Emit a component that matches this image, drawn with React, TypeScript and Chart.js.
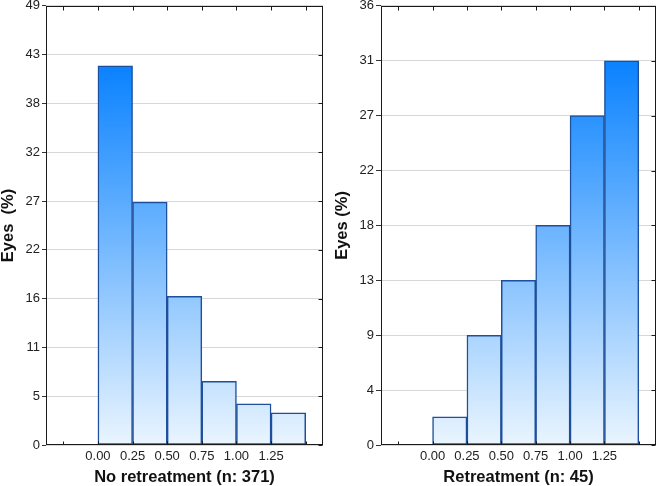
import React, { useEffect, useRef } from "react";
import { Chart, registerables } from "chart.js";

Chart.register(...registerables);

const BIN_STARTS = [0, 0.25, 0.5, 0.75, 1.0, 1.25];
const BIN_WIDTH = 0.25;
const LEFT_VALUES = [42.3, 27.1, 16.6, 7.1, 4.6, 3.6];
const RIGHT_VALUES = [2.3, 9.0, 13.5, 18.0, 27.0, 31.5];
const LEFT_Y_LABELS = ["0", "5", "11", "16", "22", "27", "32", "38", "43", "49"];
const LEFT_Y_MAX = 49;
const RIGHT_Y_LABELS = ["0", "4", "9", "13", "18", "22", "27", "31", "36"];
const RIGHT_Y_MAX = 36;
const X_TICKS = [-0.25, 0, 0.25, 0.5, 0.75, 1.0, 1.25, 1.5];
const X_TICK_LABELS = ["", "0.00", "0.25", "0.50", "0.75", "1.00", "1.25", ""];
const X_MIN = -0.375;
const X_MAX = 1.625;
const LEFT_X_TITLE = "No retreatment (n: 371)";
const RIGHT_X_TITLE = "Retreatment (n: 45)";
const LEFT_Y_TITLE = "Eyes  (%)";
const RIGHT_Y_TITLE = "Eyes (%)";

const FONT = "'Liberation Sans', Arial, Helvetica, sans-serif";

const framePlugin = {
  id: "frame",
  afterDraw(chart: any) {
    const { ctx, chartArea: a, scales } = chart;
    ctx.save();
    ctx.strokeStyle = "#1a1a1a";
    ctx.lineWidth = 1;
    const l = Math.round(a.left) + 0.5;
    const r = Math.round(a.right) - 0.5;
    const t = Math.round(a.top) + 0.5;
    const b = Math.round(a.bottom) - 0.5;
    ctx.strokeRect(l, t, r - l, b - t);
    ctx.beginPath();
    scales.x.ticks.forEach((tk: any) => {
      const px = Math.round(scales.x.getPixelForValue(tk.value)) + 0.5;
      ctx.moveTo(px, b);
      ctx.lineTo(px, b - 3);
      ctx.moveTo(px, t);
      ctx.lineTo(px, t + 4);
    });
    scales.y.ticks.forEach((tk: any) => {
      const py = Math.round(scales.y.getPixelForValue(tk.value)) + 0.5;
      ctx.moveTo(r, py);
      ctx.lineTo(r - 4, py);
    });
    ctx.stroke();
    ctx.restore();
  },
};

function gradientFill(c: any) {
  const chart = c.chart;
  const area = chart.chartArea;
  if (!area) return "#5aaaff";
  const y = chart.scales.y;
  const vals = chart.data.datasets[0].data.map((d: any) => d.y);
  const top = y.getPixelForValue(Math.max(...vals));
  const bottom = y.getPixelForValue(0);
  const g = chart.ctx.createLinearGradient(0, top, 0, bottom);
  g.addColorStop(0, "#0a82ff");
  g.addColorStop(1, "#eaf5fe");
  return g;
}

function buildConfig(
  values: number[],
  yLabels: string[],
  yMax: number,
  xTitle: string,
  yTitle: string,
  yWidth: number,
  rightPad: number,
  yTitlePad: number,
  yTickLen: number
): any {
  return {
    type: "bar",
    data: {
      datasets: [
        {
          data: BIN_STARTS.map((s, i) => ({ x: s + BIN_WIDTH / 2, y: values[i] })),
          backgroundColor: gradientFill,
          borderColor: "#1d4f9c",
          borderWidth: 1.5,
          borderSkipped: false,
          barPercentage: 1,
          categoryPercentage: 1,
        },
      ],
    },
    options: {
      responsive: false,
      animation: false,
      layout: { padding: { top: 4, right: rightPad, left: 0, bottom: 0 } },
      plugins: { legend: { display: false }, tooltip: { enabled: false } },
      scales: {
        x: {
          type: "linear",
          offset: false,
          min: X_MIN,
          max: X_MAX,
          afterBuildTicks: (s: any) => {
            s.ticks = X_TICKS.map((v) => ({ value: v }));
          },
          afterFit: (s: any) => {
            s.height = 41;
          },
          grid: { display: false, drawTicks: false, offset: false },
          border: { display: false },
          ticks: {
            autoSkip: false,
            maxRotation: 0,
            padding: 4,
            color: "#222",
            font: { family: FONT, size: 13 },
            callback: (_v: any, i: number) => X_TICK_LABELS[i],
          },
          title: {
            display: true,
            text: xTitle,
            color: "#111",
            padding: 0,
            font: { family: FONT, size: 16.5, weight: "bold", lineHeight: 1 },
          },
        },
        y: {
          type: "linear",
          min: 0,
          max: yMax,
          afterBuildTicks: (s: any) => {
            s.ticks = yLabels.map((_l, i) => ({ value: (yMax * i) / (yLabels.length - 1) }));
          },
          afterFit: (s: any) => {
            s.width = yWidth;
          },
          grid: { color: "#d8d8d8", lineWidth: 1, tickColor: "#333", tickLength: yTickLen, drawTicks: true },
          border: { display: false },
          ticks: {
            autoSkip: false,
            padding: 2,
            color: "#222",
            font: { family: FONT, size: 13, lineHeight: 0.6 },
            callback: (_v: any, i: number) => yLabels[i],
          },
          title: {
            display: true,
            text: yTitle,
            color: "#111",
            padding: { top: yTitlePad, bottom: 0 },
            font: { family: FONT, size: 16.5, weight: "bold", lineHeight: 1 },
          },
        },
      },
    },
    plugins: [framePlugin],
  };
}

function Panel(props: { config: any }) {
  const ref = useRef<HTMLCanvasElement>(null);
  useEffect(() => {
    const chart = new Chart(ref.current as HTMLCanvasElement, props.config);
    return () => chart.destroy();
  }, []);
  return <canvas ref={ref} width={329} height={486} style={{ display: "block", width: 329, height: 486 }} />;
}

export default function App() {
  const leftCfg = buildConfig(LEFT_VALUES, LEFT_Y_LABELS, LEFT_Y_MAX, LEFT_X_TITLE, LEFT_Y_TITLE, 46, 6, 0, 4);
  const rightCfg = buildConfig(RIGHT_VALUES, RIGHT_Y_LABELS, RIGHT_Y_MAX, RIGHT_X_TITLE, RIGHT_Y_TITLE, 52, 2, 5, 5);
  return (
    <div style={{ position: "absolute", left: 0, top: 0, width: 658, height: 486, display: "flex", background: "#fff" }}>
      <Panel config={leftCfg} />
      <Panel config={rightCfg} />
    </div>
  );
}
